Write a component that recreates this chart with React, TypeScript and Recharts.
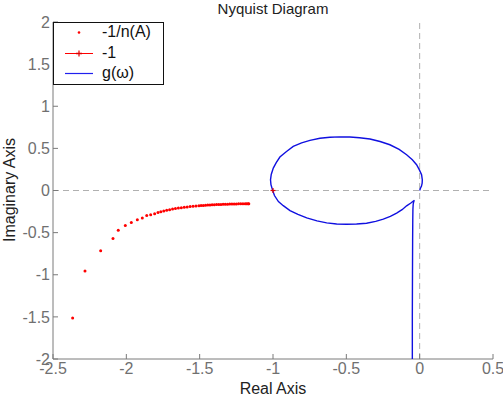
import React from 'react';
import { ScatterChart, Scatter, XAxis, YAxis, ReferenceLine } from 'recharts';

const nRe = [-2.366, -2.282, -2.175, -2.091, -2.055, -2.007, -1.966, -1.925, -1.891, -1.861, -1.834, -1.807, -1.784, -1.765, -1.745, -1.725, -1.705, -1.685, -1.665, -1.645, -1.625, -1.605, -1.585, -1.565, -1.545, -1.525, -1.505, -1.49, -1.475, -1.46, -1.445, -1.43, -1.415, -1.40, -1.385, -1.37, -1.355, -1.34, -1.325, -1.31, -1.295, -1.28, -1.265, -1.25, -1.235, -1.22, -1.205, -1.19, -1.18, -1.17, -1.165];
const nIm = [-1.514, -0.955, -0.714, -0.571, -0.471, -0.416, -0.380, -0.348, -0.325, -0.297, -0.287, -0.275, -0.262, -0.252, -0.243, -0.235, -0.228, -0.221, -0.215, -0.209, -0.204, -0.199, -0.195, -0.191, -0.187, -0.184, -0.181, -0.179, -0.177, -0.175, -0.173, -0.171, -0.170, -0.168, -0.167, -0.166, -0.165, -0.164, -0.163, -0.162, -0.161, -0.160, -0.159, -0.159, -0.158, -0.158, -0.157, -0.157, -0.157, -0.156, -0.156];

const gRe = [-0.050, -0.050, -0.049, -0.048, -0.047, -0.046, -0.044, -0.040, -0.036, -0.045, -0.060, -0.089, -0.120, -0.157, -0.200, -0.248, -0.300, -0.362, -0.430, -0.498, -0.566, -0.634, -0.700, -0.770, -0.830, -0.884, -0.930, -0.963, -0.990, -1.002, -1.014, -1.017, -1.012, -0.998, -0.978, -0.953, -0.910, -0.862, -0.805, -0.748, -0.680, -0.612, -0.545, -0.476, -0.410, -0.339, -0.270, -0.203, -0.140, -0.089, -0.050, -0.021, -0.002, 0.013, 0.018, 0.017, 0.012, 0.006, 0.000];
const gIm = [-2.05, -1.5, -1.0, -0.6, -0.35, -0.22, -0.16, -0.13, -0.118, -0.128, -0.148, -0.182, -0.228, -0.269, -0.307, -0.340, -0.366, -0.388, -0.398, -0.401, -0.397, -0.384, -0.360, -0.325, -0.283, -0.238, -0.180, -0.131, -0.060, 0.000, 0.070, 0.127, 0.190, 0.266, 0.330, 0.397, 0.460, 0.523, 0.565, 0.595, 0.620, 0.632, 0.636, 0.635, 0.626, 0.611, 0.582, 0.543, 0.487, 0.424, 0.365, 0.306, 0.245, 0.187, 0.127, 0.088, 0.050, 0.029, 0.000];

const critRe = [-1];
const critIm = [0];

const xTicks = [-2.5, -2, -1.5, -1, -0.5, 0, 0.5];
const yTicks = [-2, -1.5, -1, -0.5, 0, 0.5, 1, 1.5, 2];

const nData = nRe.map((x, i) => ({ x, y: nIm[i] }));
const gData = gRe.map((x, i) => ({ x, y: gIm[i] }));
const cData = critRe.map((x, i) => ({ x, y: critIm[i] }));

const FONT = '"Liberation Sans", Arial, sans-serif';
const AX = '#7a7a7a';
const TICKC = '#707070';

const Dot = (p: any) => <circle cx={p.cx} cy={p.cy} r={1.5} fill="#ff0000" />;
const Star = (p: any) => (
  <g stroke="#e00000" strokeWidth={1.2}>
    <line x1={p.cx - 2.5} y1={p.cy} x2={p.cx + 2.5} y2={p.cy} />
    <line x1={p.cx} y1={p.cy - 2.5} x2={p.cx} y2={p.cy + 2.5} />
  </g>
);
const Nothing = () => <g />;

export default function App() {
  const tickStyle = { fill: TICKC, fontSize: 16, fontFamily: FONT };
  const lab = { position: 'absolute' as const, fontSize: 16, color: '#222', whiteSpace: 'nowrap' as const, lineHeight: '16px' };
  return (
    <div style={{ position: 'absolute', left: 0, top: 0, width: 503, height: 397, background: '#fff', fontFamily: FONT, overflow: 'hidden' }}>
      <ScatterChart width={503} height={397} margin={{ top: 22, right: 10, bottom: 8, left: 13 }}>
        <XAxis xAxisId="b" type="number" dataKey="x" domain={[-2.5, 0.5]} ticks={xTicks} allowDataOverflow
          stroke={AX} tick={tickStyle} tickSize={-5} tickMargin={9} height={30} interval={0} />
        <XAxis xAxisId="t" orientation="top" type="number" dataKey="x" domain={[-2.5, 0.5]} ticks={xTicks} allowDataOverflow
          stroke={AX} tick={false} tickSize={-5} height={0} interval={0} />
        <YAxis yAxisId="l" type="number" dataKey="y" domain={[-2, 2]} ticks={yTicks} allowDataOverflow
          stroke={AX} tick={tickStyle} tickSize={-5} tickMargin={8} width={40} interval={0} />
        <YAxis yAxisId="r" orientation="right" type="number" dataKey="y" domain={[-2, 2]} ticks={yTicks} allowDataOverflow
          stroke={AX} tick={false} tickSize={-5} width={0} interval={0} />
        <ReferenceLine xAxisId="b" yAxisId="l" x={0} stroke="#b0b0b0" strokeDasharray="6 4" />
        <ReferenceLine xAxisId="b" yAxisId="l" y={0} stroke="#b0b0b0" strokeDasharray="6 4" />
        <Scatter xAxisId="b" yAxisId="l" data={gData} line={{ stroke: '#1010e0', strokeWidth: 1.4 }} lineType="joint" shape={Nothing} isAnimationActive={false} />
        <Scatter xAxisId="b" yAxisId="l" data={nData} shape={Dot} isAnimationActive={false} />
        <Scatter xAxisId="b" yAxisId="l" data={cData} shape={Star} isAnimationActive={false} />
        <Scatter xAxisId="t" yAxisId="r" data={[]} shape={Nothing} isAnimationActive={false} />
      </ScatterChart>

      <div style={{ ...lab, left: 273, top: 1, fontSize: 15, transform: 'translateX(-50%)' }}>Nyquist Diagram</div>
      <div style={{ ...lab, left: 273, top: 381, transform: 'translateX(-50%)' }}>Real Axis</div>
      <div style={{ ...lab, left: 10, top: 190, transform: 'translate(-50%, -50%) rotate(-90deg)' }}>Imaginary Axis</div>

      <div style={{ position: 'absolute', left: 53, top: 22, width: 111, height: 63, boxSizing: 'border-box', border: '1.5px solid #111', background: '#fff' }}>
        <svg width={44} height={60} style={{ position: 'absolute', left: 0, top: 0 }}>
          <circle cx={25} cy={9.5} r={1.3} fill="#ff0000" />
          <line x1={11} y1={30.5} x2={39} y2={30.5} stroke="#ff0000" strokeWidth={1} />
          <line x1={22} y1={30.5} x2={28} y2={30.5} stroke="#e00000" strokeWidth={1.5} />
          <line x1={25} y1={27.5} x2={25} y2={33.5} stroke="#e00000" strokeWidth={1.2} />
          <line x1={11} y1={50.5} x2={39} y2={50.5} stroke="#2020ee" strokeWidth={1.2} />
        </svg>
        <div style={{ ...lab, left: 48, top: 1, color: '#111' }}>-1/n(A)</div>
        <div style={{ ...lab, left: 48, top: 22, color: '#111' }}>-1</div>
        <div style={{ ...lab, left: 48, top: 42, color: '#111' }}>g(ω)</div>
      </div>
    </div>
  );
}
